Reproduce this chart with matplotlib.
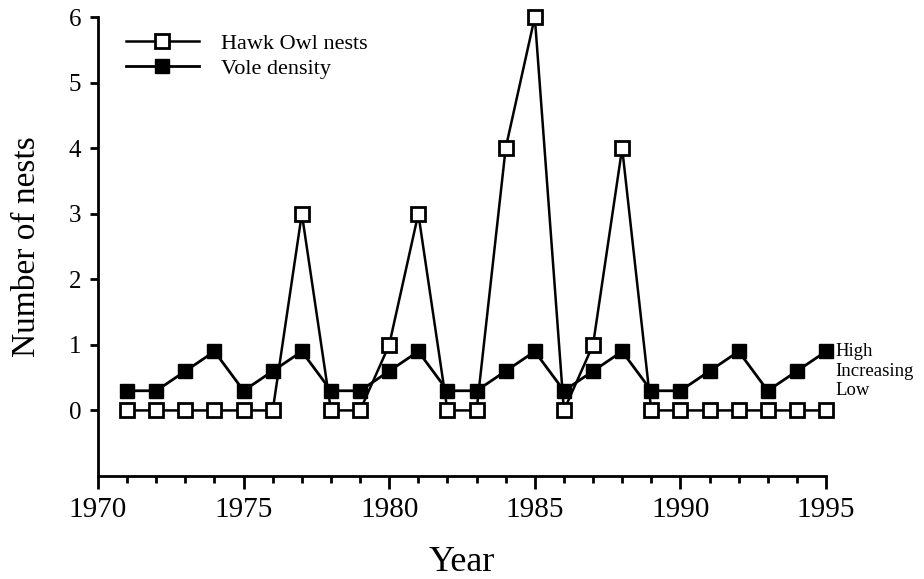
import matplotlib
matplotlib.use("Agg")
import matplotlib.pyplot as plt
from matplotlib.ticker import MultipleLocator

plt.rcParams['font.family'] = ['Liberation Serif', 'DejaVu Serif']

years = list(range(1971, 1996))
hawk_owl_nests = [0, 0, 0, 0, 0, 0, 3, 0, 0, 1, 3, 0, 0, 4, 6, 0, 1, 4, 0, 0, 0, 0, 0, 0, 0]
# vole phase: Low=0.3, Increasing=0.6, High=0.9
vole_levels = {"Low": 0.3, "Increasing": 0.6, "High": 0.9}
vole_phase = ["Low", "Low", "Increasing", "High", "Low", "Increasing", "High", "Low", "Low",
              "Increasing", "High", "Low", "Low", "Increasing", "High", "Low", "Increasing",
              "High", "Low", "Low", "Increasing", "High", "Low", "Increasing", "High"]
vole_density = [vole_levels[p] for p in vole_phase]
y_ticks = [0, 1, 2, 3, 4, 5, 6]
x_ticks = [1970, 1975, 1980, 1985, 1990, 1995]

fig = plt.figure(figsize=(9.24, 5.79), dpi=100)
ax = fig.add_axes([98/924, 1-476/579, 728/924, 459/579])

ax.plot(years, vole_density, color='black', lw=2, marker='s', ms=9.5,
        mfc='black', mec='black', clip_on=False, zorder=3, label='Vole density')
ax.plot(years, hawk_owl_nests, color='black', lw=1.8, marker='s', ms=9.5,
        mfc='white', mec='black', mew=2, clip_on=False, zorder=4, label='Hawk Owl nests')

ax.set_xlim(1970, 1995)
ax.set_ylim(-1, 6)
ax.set_yticks(y_ticks)
ax.set_xticks(x_ticks)
ax.xaxis.set_minor_locator(MultipleLocator(1))
ax.tick_params(axis='y', which='major', direction='out', length=6, width=2, labelsize=18, pad=6)
ax.tick_params(axis='x', which='major', direction='out', length=9, width=2, labelsize=21, pad=6)
ax.tick_params(axis='x', which='minor', direction='out', length=5, width=2)
for s in ['top', 'right']:
    ax.spines[s].set_visible(False)
for s in ['left', 'bottom']:
    ax.spines[s].set_linewidth(2)

ax.set_xlabel('Year', fontsize=26, labelpad=17)
ax.set_ylabel('Number of nests', fontsize=24, labelpad=19)

handles, labels = ax.get_legend_handles_labels()
leg = ax.legend(handles[::-1], labels[::-1], loc='upper left', bbox_to_anchor=(0.038, 0.965),
                frameon=False, fontsize=16, handlelength=3.3, handletextpad=1.0,
                borderpad=0, borderaxespad=0, labelspacing=0.2)

for name, val in vole_levels.items():
    ax.annotate(name, xy=(1995, val), xytext=(7, 0), textcoords='offset points',
                ha='left', va='center', fontsize=13.5, annotation_clip=False)

fig.savefig('out.png', dpi=100)
